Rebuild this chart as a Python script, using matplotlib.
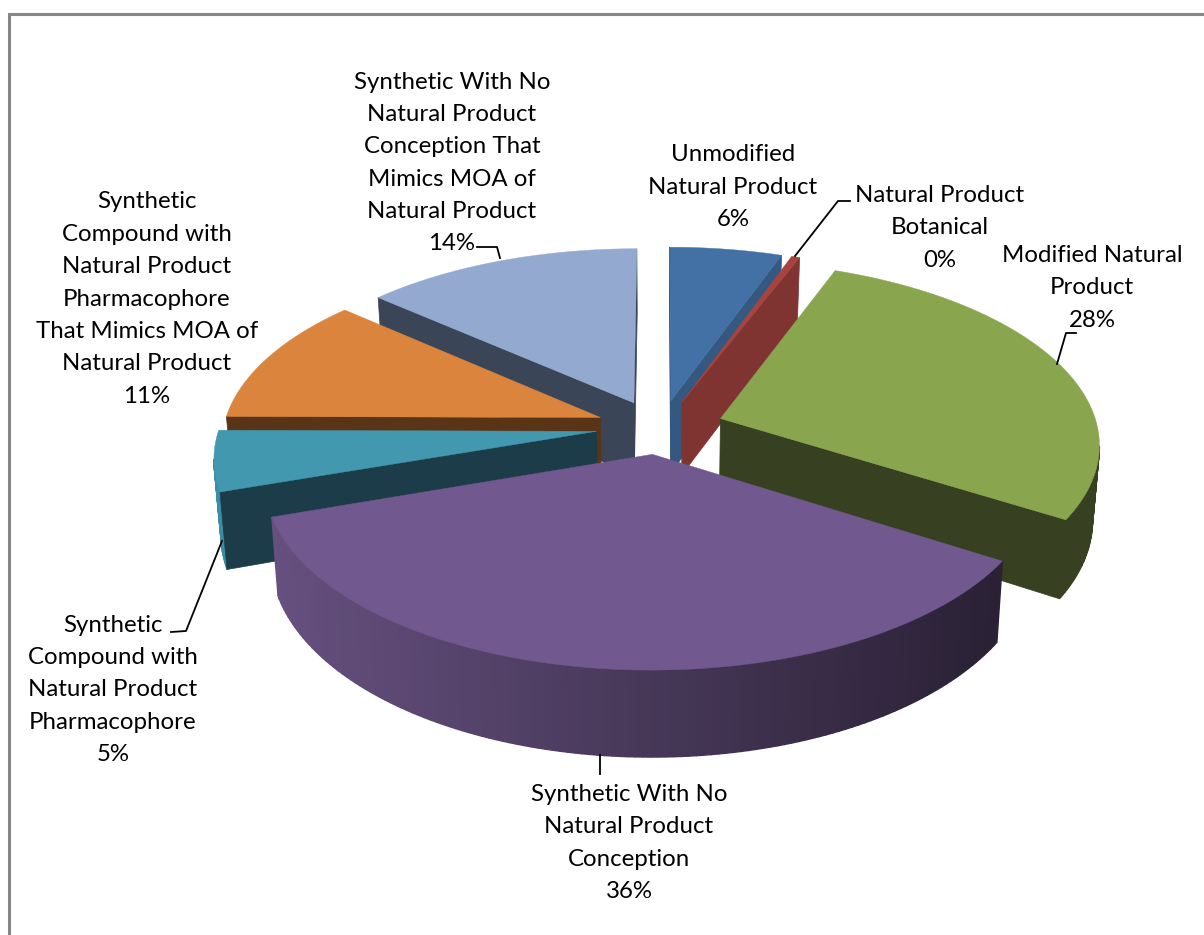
import numpy as np
import matplotlib
matplotlib.use('Agg')
import matplotlib.pyplot as plt
from matplotlib.colors import to_rgb

plt.rcParams['font.family'] = ['Lato', 'DejaVu Sans']

# slices, clockwise from 12 o'clock
names = ['Unmodified\nNatural Product',
         'Natural Product\nBotanical',
         'Modified Natural\nProduct',
         'Synthetic With No\nNatural Product\nConception',
         'Synthetic\nCompound with\nNatural Product\nPharmacophore',
         'Synthetic\nCompound with\nNatural Product\nPharmacophore\nThat Mimics MOA of\nNatural Product',
         'Synthetic With No\nNatural Product\nConception That\nMimics MOA of\nNatural Product']
values = [5.5, 0.4, 28.0, 35.9, 5.3, 11.3, 13.6]

top_colors = ['#4471a5', '#a6443f', '#89a54e', '#71588f', '#4198af', '#db843d', '#93a9cf']
wall_colors = ['#34587f', '#7f3432', '#374020', '#2d2339', '#1b3c48', '#5a3416', '#3b4558']
side_left = ['#34587f', '#a6443f', '#374020', '#66507f', '#3a8ea3', '#c0732f', '#7f93b5']
side_right = ['#34587f', '#7f3432', '#374020', '#2a2135', '#3a8ea3', '#c0732f', '#7f93b5']

# pie geometry, in pixels
cx, cy = 660, 427
rx, ry = 377, 180
depth = 74
dist = 7.7
explode_x, explode_y = 0.17, 0.15

# back slices get painted first
draw_order = [6, 0, 1, 5, 2, 4, 3]

label_xy = [(733, 187), (940, 228), (1092, 288), (629, 843), (113, 690), (147, 299), (452, 163)]
leaders = [None,
           [(795, 256), (838, 201), (850, 201)],
           [(1057, 364), (1066, 333), (1076, 333)],
           [(600, 755), (600, 774)],
           [(222, 541), (186, 631), (171, 632)],
           None,
           [(477, 247), (497, 247), (500, 258)]]


def project(x, y, z=0.0):
    s = dist / (dist + y)
    return cx + rx * x * s * (1 - 0.016 * z), cy - ry * y * s + depth * s * z


def band(p, q, z0=0.0, z1=1.0):
    # quad strip between two ground points, swept down the pie's height
    a = project(*p, z0), project(*q, z0), project(*q, z1), project(*p, z1)
    return [pt for pt in a]


fig = plt.figure(figsize=(12.04, 9.35), dpi=100)
ax = fig.add_axes([0, 0, 1, 1])
ax.set_xlim(0, 1204)
ax.set_ylim(935, 0)
ax.axis('off')

# chart frame
ax.plot([9, 9, 1204], [935, 14, 14], color='#868686', lw=2.2, solid_joinstyle='miter')

total = sum(values)
edges = np.cumsum([0] + values) / total * 2 * np.pi

for i in draw_order:
    a0, a1 = edges[i], edges[i + 1]
    mid = (a0 + a1) / 2
    ox, oy = explode_x * np.sin(mid), explode_y * np.cos(mid)
    angs = np.linspace(a0, a1, max(int(np.degrees(a1 - a0)), 2) + 1)
    rim = [(ox + np.sin(t), oy + np.cos(t)) for t in angs]
    apex = (ox, oy)
    z = 3 + draw_order.index(i)

    # outer side, shaded left to right; going clockwise it only faces us while x falls
    cl, cr = np.array(to_rgb(side_left[i])), np.array(to_rgb(side_right[i]))
    for p, q in zip(rim[:-1], rim[1:]):
        if project(*q)[0] >= project(*p)[0]:
            continue
        f = np.clip((project(*p)[0] - 270) / 730, 0, 1)
        ax.fill(*zip(*band(p, q)), color=cl + (cr - cl) * f, lw=1.0, zorder=z)

    # radial walls, only the ones turned towards the viewer
    A = np.array(project(*apex))
    M = np.array(project(ox + 0.5 * np.sin(mid), oy + 0.5 * np.cos(mid)))
    for end in (rim[0], rim[-1]):
        P = np.array(project(*end))
        y_on_line = A[1] + (P[1] - A[1]) * (M[0] - A[0]) / (P[0] - A[0] + 1e-9)
        if M[1] < y_on_line:
            ax.fill(*zip(*band(apex, end)), color=wall_colors[i], lw=0.5, zorder=z)

    top = [project(*apex)] + [project(*p) for p in rim]
    ax.fill(*zip(*top), color=top_colors[i], lw=0.3, zorder=z)

for name, v, xy, line in zip(names, values, label_xy, leaders):
    ax.text(xy[0], xy[1], f'{name}\n{round(v)}%', ha='center', va='center',
            fontsize=17.25, linespacing=1.67, color='black', zorder=20)
    if line:
        ax.plot(*zip(*line), color='black', lw=1.3, zorder=21)

fig.savefig('out.png', dpi=100)
